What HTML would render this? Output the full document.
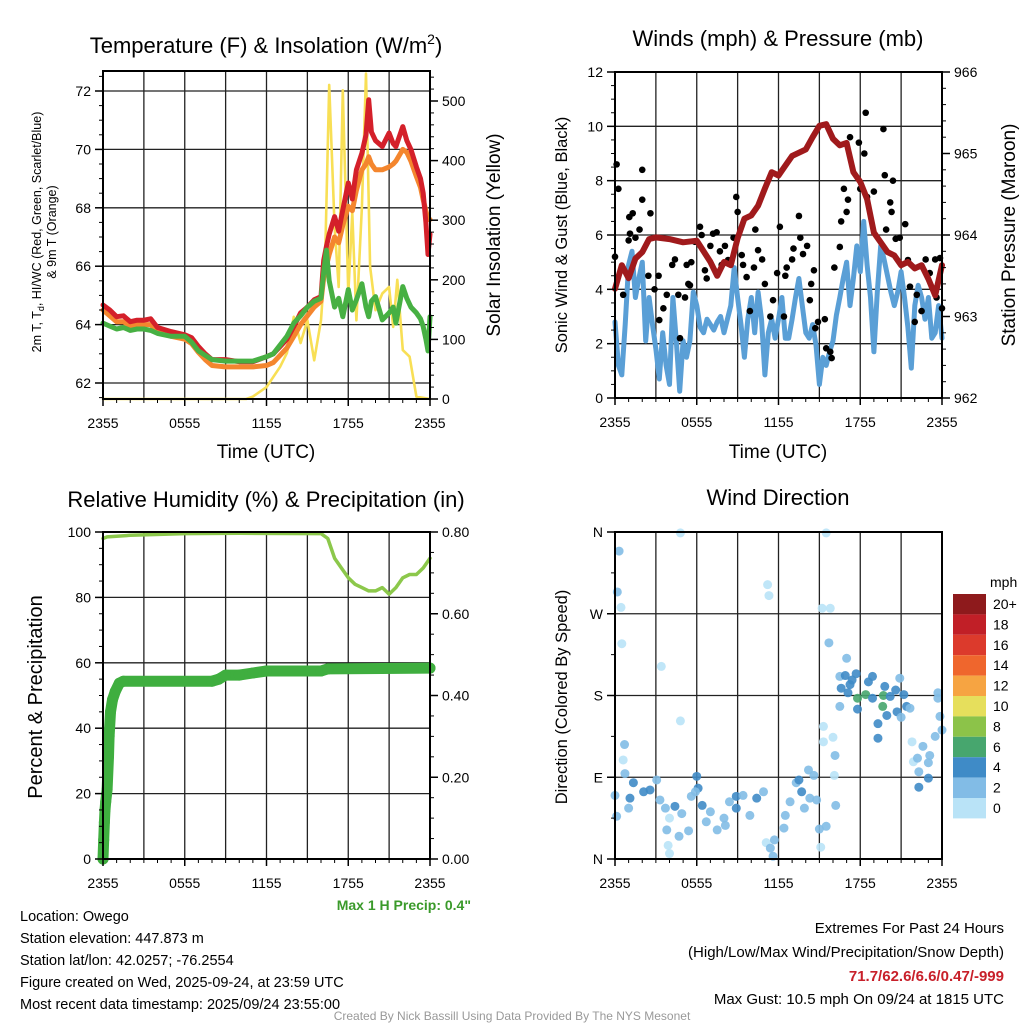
<!DOCTYPE html>
<html><head><meta charset="utf-8"><style>
html,body{margin:0;padding:0;background:#fff;}
svg{display:block;font-family:"Liberation Sans",Arial,sans-serif;}
</style></head><body>
<svg id="chart" width="1024" height="1024" viewBox="0 0 1024 1024" xmlns="http://www.w3.org/2000/svg">
<g id="g1"></g>
<g id="g2"></g>
<g id="g3"></g>
<g id="g4"></g>
<text x="266" y="53" font-size="22" text-anchor="middle">Temperature (F) &amp; Insolation (W/m<tspan dy="-9" font-size="14">2</tspan><tspan dy="9">)</tspan></text>
<text x="778" y="46" font-size="22" text-anchor="middle">Winds (mph) &amp; Pressure (mb)</text>
<text x="266" y="507" font-size="22" text-anchor="middle">Relative Humidity (%) &amp; Precipitation (in)</text>
<text x="778" y="505" font-size="22" text-anchor="middle">Wind Direction</text>
<text transform="translate(41,232) rotate(-90)" font-size="12.5" text-anchor="middle">2m T, T<tspan dy="3" font-size="9">d</tspan><tspan dy="-3">, HI/WC (Red, Green, Scarlet/Blue)</tspan></text>
<text transform="translate(56,232) rotate(-90)" font-size="12.5" text-anchor="middle">&amp; 9m T (Orange)</text>
<text transform="translate(500,235) rotate(-90)" font-size="19" text-anchor="middle">Solar Insolation (Yellow)</text>
<text transform="translate(567,235) rotate(-90)" font-size="16.5" text-anchor="middle">Sonic Wind &amp; Gust (Blue, Black)</text>
<text transform="translate(1015,235) rotate(-90)" font-size="19" text-anchor="middle">Station Pressure (Maroon)</text>
<text transform="translate(42,697) rotate(-90)" font-size="20" text-anchor="middle">Percent &amp; Precipitation</text>
<text transform="translate(567,697) rotate(-90)" font-size="16.5" text-anchor="middle">Direction (Colored By Speed)</text>
<text x="266" y="458" font-size="19" text-anchor="middle">Time (UTC)</text>
<text x="778" y="458" font-size="19" text-anchor="middle">Time (UTC)</text>
<text x="471" y="910" font-size="14" font-weight="bold" fill="#3a9a2a" text-anchor="end">Max 1 H Precip: 0.4"</text>
<g font-size="14.5">
<text x="20" y="921">Location: Owego</text>
<text x="20" y="943">Station elevation: 447.873 m</text>
<text x="20" y="965">Station lat/lon: 42.0257; -76.2554</text>
<text x="20" y="987">Figure created on Wed, 2025-09-24, at 23:59 UTC</text>
<text x="20" y="1009">Most recent data timestamp: 2025/09/24 23:55:00</text>
</g>
<g font-size="15" text-anchor="end">
<text x="1004" y="933">Extremes For Past 24 Hours</text>
<text x="1004" y="957">(High/Low/Max Wind/Precipitation/Snow Depth)</text>
<text x="1004" y="981" fill="#c8202a" font-weight="bold">71.7/62.6/6.6/0.47/-999</text>
<text x="1004" y="1004">Max Gust: 10.5 mph On 09/24 at 1815 UTC</text>
</g>
<text x="512" y="1020" font-size="12" fill="#999" text-anchor="middle">Created By Nick Bassill Using Data Provided By The NYS Mesonet</text>
</svg>
<script>
// ---- Data ----
const xTickLabels = ["2355","0555","1155","1755","2355"];
const tempTimes = [0,0.5,1,1.5,2,2.5,3,3.5,4,5,6,6.5,7,7.5,8,9,10,11,12,12.5,13,13.5,14,14.5,15,15.5,16,16.2,16.4,16.6,17,17.3,17.6,18,18.3,18.6,19,19.3,19.5,19.7,20,20.5,21,21.3,21.5,22,22.3,22.6,23,23.3,23.5,23.7,23.85,24];
const temp2m = [64.67,64.5,64.27,64.3,64.1,64.15,64.15,64.2,63.9,63.76,63.65,63.55,63.25,63.0,62.8,62.8,62.73,62.73,62.9,63.0,63.25,63.5,63.93,64.4,64.6,64.85,64.96,66.2,66.67,67.1,67.7,67.2,67.93,68.85,68.3,69.3,69.87,70.5,71.7,70.6,70.3,70.1,70.56,70.2,70.1,70.78,70.3,70.0,69.4,69.0,68.5,67.5,66.4,67.1];
const temp9m = [64.5,64.3,64.1,64.1,63.95,64.0,64.0,64.0,63.75,63.6,63.5,63.35,63.05,62.8,62.6,62.55,62.55,62.55,62.6,62.7,62.95,63.2,63.6,64.0,64.3,64.6,64.8,65.6,66.0,66.4,67.0,66.8,67.4,68.05,67.9,68.6,69.3,69.5,69.75,69.5,69.3,69.3,69.4,69.5,69.6,70.0,69.9,69.6,69.07,68.7,68.27,67.9,67.6,67.6];
const dewpoint = [64.05,63.95,63.85,63.9,63.8,63.85,63.85,63.8,63.7,63.6,63.6,63.4,63.1,62.95,62.8,62.75,62.75,62.75,62.9,63.0,63.3,63.6,64.05,64.3,64.6,64.8,64.9,65.8,66.55,65.5,64.6,64.9,64.27,65.2,64.5,64.85,65.4,64.6,64.27,64.8,64.96,64.16,64.4,64.6,64.05,65.3,64.9,64.6,64.4,64.2,63.93,63.5,63.1,64.27];
const tempTicks = [62,64,66,68,70,72];
const solarTimes = [0,10.5,11,12,13,13.5,14,14.5,15,15.5,16,16.3,16.6,17,17.3,17.6,18,18.3,18.6,19,19.3,19.6,20,20.5,21,21.3,21.6,22,22.5,23,24];
const solarValues = [0,0,4,20,54,77,138,94,132,65,132,233,527,289,188,518,177,312,132,322,546,222,149,177,188,121,200,82,71,4,0];
const solarTicks = [0,100,200,300,400,500];

const windStep = 0.25;
const windSpeed = [2.8,1.2,0.85,2.7,4.9,5.4,3.7,4.4,5.0,2.1,3.7,2.7,1.8,0.7,2.4,1.2,0.5,3.7,2.1,0.25,2.1,1.5,2.1,3.9,3.4,2.6,2.4,2.9,2.7,2.5,2.8,3.0,2.4,2.9,3.4,4.8,3.7,2.7,1.5,2.9,3.7,2.4,3.9,2.9,0.85,2.4,2.9,2.2,2.9,3.7,2.2,2.2,2.9,3.7,4.4,3.4,2.4,2.2,2.7,1.95,0.5,1.5,1.2,1.7,2.1,3.05,3.7,4.4,5.0,3.4,4.4,5.6,4.65,6.5,4.9,3.7,1.7,3.9,5.6,5.1,4.5,3.9,3.4,3.9,4.65,3.7,2.6,1.1,3.4,4.15,3.7,2.9,3.7,2.2,2.4,3.4,2.2];
const gustTimes = [0.12,0.25,0,0.6,1.0,1.1,1.3,1.05,1.5,1.8,2.0,2.0,2.6,2.45,2.9,3.25,3.55,3.2,3.8,4.2,4.4,4.65,4.77,5.26,5.38,5.5,5.6,5.14,5.87,6.24,6.36,6.6,6.73,7.0,7.2,7.46,7.7,7.83,8.07,8.3,8.7,8.9,9.0,9.3,9.4,9.66,9.9,10.2,10.3,10.5,10.8,11.0,11.4,11.6,11.9,12.1,12.4,12.5,12.6,13.0,13.1,13.5,13.6,13.8,14.1,14.3,14.4,14.6,14.7,14.9,15.4,15.5,15.8,15.9,16.1,16.5,16.6,16.8,17.0,17.1,17.25,17.9,18.4,18.3,18.0,18.5,19.0,19.7,19.8,20.4,20.2,20.3,19.9,20.6,20.9,21.3,21.5,21.65,22.0,22.15,22.5,22.8,23.1,23.5,23.6,24.0,23.85];
const gustValues = [8.6,7.7,5.2,3.8,5.8,6.05,6.8,6.66,5.9,6.2,8.4,7.3,6.8,4.5,4.0,2.87,3.3,4.5,3.8,4.9,5.1,3.8,2.2,4.9,4.2,4.15,5.0,3.7,5.75,6.3,6.0,4.7,4.4,5.6,6.05,6.1,5.4,4.9,5.6,5.08,5.9,7.4,6.85,5.26,4.9,4.45,3.2,4.8,6.2,5.44,5.1,4.2,3.0,3.6,4.6,6.3,3.0,4.5,4.8,5.1,5.5,6.7,5.9,5.3,5.6,3.6,4.2,4.7,2.57,2.8,2.9,1.83,1.7,1.47,4.8,5.56,6.5,7.7,6.85,7.3,9.6,9.4,10.5,9.0,7.7,7.4,7.6,9.9,8.2,8.0,7.2,6.85,6.2,5.86,5.9,6.4,5.08,4.1,2.8,3.8,3.2,5.1,4.6,5.1,3.7,3.3,5.15];
const pressTimes = [0,0.5,1,1.5,2,2.5,3,4,5,6,7,7.5,8,8.5,9,9.5,10,10.5,11,11.5,12,12.5,13,14,14.5,15,15.5,16,16.5,17,17.5,18,18.5,19,19.5,20,20.5,21,21.5,22,22.5,23,23.5,24];
const pressValues = [963.34,963.63,963.47,963.71,963.79,963.95,963.97,963.95,963.91,963.93,963.67,963.5,963.67,963.63,963.96,964.2,964.24,964.36,964.57,964.77,964.73,964.85,964.97,965.05,965.2,965.34,965.36,965.18,965.1,965.13,964.77,964.65,964.44,964.03,963.91,963.79,963.75,963.63,963.67,963.59,963.63,963.46,963.26,963.63];
const windTicks = [0,2,4,6,8,10,12];
const pressTicks = [962,963,964,965,966];

const rhTimes = [0,0.3,2,6,10,16,16.5,17,17.5,18,18.5,19,19.5,20,20.5,21,21.5,22,22.5,23,23.5,24];
const rhValues = [98,98.5,99,99.5,99.6,99.5,98,92,89,86,84,83,82,82,83,81,83,86,87,87,89,92];
const precipTimes = [0,0.05,0.1,0.15,0.2,0.3,0.4,0.45,0.55,0.7,0.9,1.2,1.5,8,8.5,9,10,11,12,16,16.5,24];
const precipValues = [0,0.047,0.09,0.12,0.14,0.17,0.25,0.30,0.36,0.39,0.41,0.43,0.435,0.435,0.44,0.45,0.45,0.455,0.46,0.46,0.465,0.467];
const rhTicks = [0,20,40,60,80,100];
const precipTicks = [0,0.2,0.4,0.6,0.8];
const precipTickLabels = ["0.00","0.20","0.40","0.60","0.80"];

const dirTimes = [0.3,0.17,0.44,0.5,3.4,4.8,4.8,11.2,11.3,15.5,15.2,15.8,15.7,0.7,0.6,0.73,0,0.12,1.35,1.1,1.0,2.1,2.57,3.06,3.3,3.7,4.0,3.8,3.9,4.0,4.4,4.7,4.9,5.4,5.6,6.0,6.1,6.4,5.9,6.7,7.0,7.5,8.0,8.1,8.4,8.9,8.9,9.4,9.9,10.4,10.9,11.1,11.4,11.6,11.7,12.4,12.5,12.85,13.3,13.5,13.7,13.9,14.2,14.3,14.6,14.8,15.0,15.1,15.5,15.3,15.3,16.0,16.15,16.1,16.2,17.0,16.5,16.9,16.6,17.25,17.7,17.4,17.1,17.8,18.4,18.9,18.6,18.9,17.8,16.5,19.3,19.3,19.7,19.65,19.8,19.95,20.2,20.6,20.9,20.7,21.0,21.2,21.4,21.65,21.8,21.9,22.2,22.6,23.1,23.0,22.3,22.3,23.0,23.5,23.85,23.7,24.0,23.7];
const dirValues = [339,294,277,237,212,152,359,302,290,359,276,276,238,126,109,94,70,47,84,67,56,74,76,87,65,56,45,32,15,6,58,25,50,31,69,91,78,59,74,41,52,32,45,37,63,69,56,70,48,67,74,18,12,3,21,34,48,63,84,87,74,56,98,67,92,65,33,13,36,129,146,134,114,92,59,221,201,202,188,192,204,197,183,177,181,177,195,201,165,168,149,133,180,168,190,158,179,186,199,162,156,181,168,166,129,107,111,124,114,106,96,79,89,135,157,183,142,177];
const dirSpeeds = [2,3.5,0.5,0.5,0.5,0.5,0.5,0.5,0.5,0.5,0.5,0.5,2,2,0.5,2,2,2,4,4,2,4,4,2,2,2,0.5,2,0.5,0.5,4,2,2,2,2,4,4,4,2,2,2,2,2,2,2,4,4,2,2,4,2,0.5,2,2,2,2,2,2,2,4,4,2,2,2,2,2,2,0.5,2,0.5,0.5,0.5,2,0.5,2,2,2,4,4,4,4,4,4,6,6,4,4,4,4,2,4,4,6,6,4,4,4,4,2,4,2,4,4,2,0.5,0.5,2,2,2,2,2,4,4,2,2,2,2,2];
const dirTickLabels = ["N","E","S","W","N"];
const dirTicks = [0,90,180,270,360];
const legendLabels = ["20+","18","16","14","12","10","8","6","4","2","0"];
const legendColors = ["#8e1a1c","#c11f27","#dc3a2c","#ef662d","#f6a442","#e6df5c","#8cc349","#47a66e","#3f8bc7","#82bce6","#b9e3f7"];

// ---- helpers ----
const NS = "http://www.w3.org/2000/svg";
function mk(parent, tag, attrs, name){
  const el = document.createElementNS(NS, tag);
  for (const k in attrs) el.setAttribute(k, attrs[k]);
  
  
  parent.appendChild(el);
  return el;
}
function lin(d0,d1,r0,r1){ return v => r0 + (v-d0)/(d1-d0)*(r1-r0); }
function polyline(g, xs, ys, sx, sy, color, w, name){
  let d = "";
  for (let i=0;i<xs.length;i++) d += (i?"L":"M") + sx(xs[i]).toFixed(1) + "," + sy(ys[i]).toFixed(1);
  mk(g,"path",{d:d,fill:"none",stroke:color,"stroke-width":w,"stroke-linejoin":"round","stroke-linecap":"round"},name);
}
function frame(g, L,T,R,B, sx, hLines, sy){
  for (let h=3; h<24; h+=3) mk(g,"line",{x1:sx(h),x2:sx(h),y1:T,y2:B,stroke:"#222","stroke-width":1.3},"v-gridline");
  hLines.forEach(v => { const y=sy(v); if (y>T+1 && y<B-1) mk(g,"line",{x1:L,x2:R,y1:y,y2:y,stroke:"#222","stroke-width":1.3},"h-gridline"); });
}
function border(g,L,T,R,B){ mk(g,"rect",{x:L,y:T,width:R-L,height:B-T,fill:"none",stroke:"#000","stroke-width":2},"plot-frame"); }
function xAxis(g, sx, B){
  xTickLabels.forEach((lab,i)=>{
    const x = sx(i*6);
    mk(g,"line",{x1:x,x2:x,y1:B,y2:B+7,stroke:"#000","stroke-width":1.5},"x-tick");
    const t = mk(g,"text",{x:x,y:B+29,"font-size":14,"text-anchor":"middle"},"x-tick-label"); t.textContent = lab;
  });
  for (let h=1; h<24; h++) if (h%6) mk(g,"line",{x1:sx(h),x2:sx(h),y1:B,y2:B+4,stroke:"#000","stroke-width":1},"x-minor-tick");
}
function yAxis(g, ticks, labels, sy, X, side, minor, name){
  const dir = side==="left" ? -1 : 1;
  ticks.forEach((v,i)=>{
    const y = sy(v);
    mk(g,"line",{x1:X,x2:X+dir*8,y1:y,y2:y,stroke:"#000","stroke-width":1.5},name+"-tick");
    const t = mk(g,"text",{x:X+dir*12,y:y+5,"font-size":14,"text-anchor":side==="left"?"end":"start"},name+"-tick-label");
    t.textContent = labels[i];
  });
  minor.forEach(v=>{ const y=sy(v); mk(g,"line",{x1:X,x2:X+dir*4,y1:y,y2:y,stroke:"#000","stroke-width":1},name+"-minor-tick"); });
}
function range(a,b,s){ const r=[]; for(let v=a; v<=b+1e-9; v+=s) r.push(+v.toFixed(4)); return r; }

// ---- Panel 1 ----
(function(){
  const g = document.getElementById("g1");
  const L=103,R=430,T=71,B=399;
  const sx = lin(0,24,L,R), sy = lin(62,72,383,91), ss = lin(0,500,399,101);
  frame(g,L,T,R,B,sx,tempTicks,sy);
  polyline(g, solarTimes, solarValues, sx, ss, "#f8df55", 2.6, "solar-line");
  polyline(g, tempTimes, temp9m, sx, sy, "#f4862e", 5, "temp-9m-line");
  polyline(g, tempTimes, temp2m, sx, sy, "#d4202a", 5, "temp-2m-line");
  polyline(g, tempTimes, dewpoint, sx, sy, "#47b043", 5, "dewpoint-line");
  border(g,L,T,R,B);
  xAxis(g,sx,B);
  yAxis(g,tempTicks,tempTicks.map(String),sy,L,"left",range(61.5,72.5,0.5).filter(v=>v%2),"temp-axis");
  yAxis(g,solarTicks,solarTicks.map(String),ss,R,"right",range(20,540,20).filter(v=>v%100),"solar-axis");
})();

// ---- Panel 2 ----
(function(){
  const g = document.getElementById("g2");
  const L=615,R=942,T=72,B=398;
  const sx = lin(0,24,L,R), sy = lin(0,12,B,T), sp = lin(962,966,B,T);
  frame(g,L,T,R,B,sx,windTicks,sy);
  const wt = windSpeed.map((v,i)=>i*windStep);
  polyline(g, wt, windSpeed, sx, sy, "#5a9fd6", 5, "wind-speed-line");
  gustTimes.forEach((t,i)=>{ mk(g,"circle",{cx:sx(t),cy:sy(gustValues[i]),r:3.3,fill:"#000"},"gust-point"); });
  polyline(g, pressTimes, pressValues, sx, sp, "#a01a1c", 6, "pressure-line");
  border(g,L,T,R,B);
  xAxis(g,sx,B);
  yAxis(g,windTicks,windTicks.map(String),sy,L,"left",range(0.5,11.5,0.5).filter(v=>v%2),"wind-axis");
  yAxis(g,pressTicks,pressTicks.map(String),sp,R,"right",range(962.2,965.8,0.2).filter(v=>Math.abs(v-Math.round(v))>0.01),"pressure-axis");
})();

// ---- Panel 3 ----
(function(){
  const g = document.getElementById("g3");
  const L=103,R=430,T=532,B=859;
  const sx = lin(0,24,L,R), sy = lin(0,100,B,T), sp = lin(0,0.8,B,T);
  frame(g,L,T,R,B,sx,rhTicks,sy);
  polyline(g, precipTimes, precipValues, sx, sp, "#3fae3f", 11, "precip-line");
  precipTimes.forEach((t,i)=>{ mk(g,"circle",{cx:sx(t),cy:sp(precipValues[i]),r:5.5,fill:"#3fae3f"},"precip-point"); });
  polyline(g, rhTimes, rhValues, sx, sy, "#8cc84b", 3.5, "rh-line");
  border(g,L,T,R,B);
  xAxis(g,sx,B);
  yAxis(g,rhTicks,rhTicks.map(String),sy,L,"left",range(5,95,5).filter(v=>v%20),"rh-axis");
  yAxis(g,precipTicks,precipTickLabels,sp,R,"right",range(0.05,0.75,0.05).filter(v=>Math.abs(v*5-Math.round(v*5))>0.01),"precip-axis");
})();

// ---- Panel 4 ----
(function(){
  const g = document.getElementById("g4");
  const L=615,R=942,T=532,B=859;
  const sx = lin(0,24,L,R), sy = lin(0,360,B,T);
  frame(g,L,T,R,B,sx,dirTicks,sy);
  function col(s){ const idx = Math.min(10, Math.floor(s/2)); return legendColors[10-idx]; }
  dirTimes.forEach((t,i)=>{ mk(g,"circle",{cx:sx(t),cy:sy(dirValues[i]),r:4.5,fill:col(dirSpeeds[i]),"fill-opacity":0.9},"direction-point"); });
  border(g,L,T,R,B);
  xAxis(g,sx,B);
  yAxis(g,dirTicks,dirTickLabels,sy,L,"left",[45,135,225,315],"direction-axis");
  const lg = mk(g,"g",{},"speed-legend");
  const lt = mk(lg,"text",{x:990,y:587,"font-size":14},"legend-title"); lt.textContent = "mph";
  legendLabels.forEach((lab,i)=>{
    const y = 594 + i*20.4;
    mk(lg,"rect",{x:953,y:y,width:33,height:20.4,fill:legendColors[i]},"legend-swatch");
    const t = mk(lg,"text",{x:993,y:y+15,"font-size":14},"legend-label"); t.textContent = lab;
  });
})();
</script>
</body></html>
